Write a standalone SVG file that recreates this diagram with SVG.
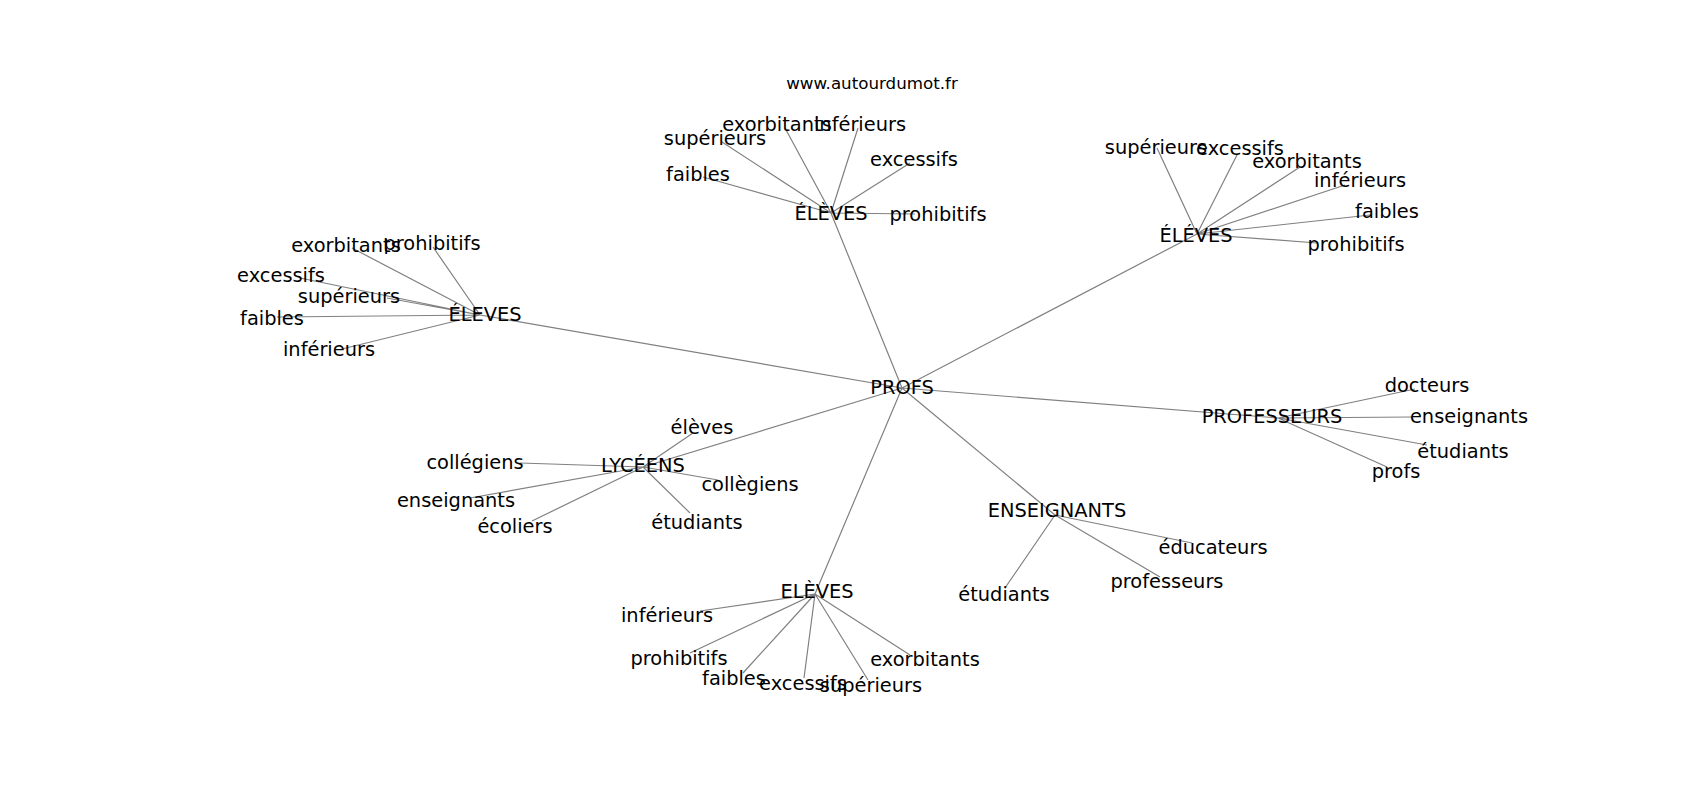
<svg xmlns="http://www.w3.org/2000/svg" width="1700" height="800" viewBox="0 0 1700 800">
<style>
.e{stroke:#808080;stroke-width:1.2;fill:none}
text{font-family:"DejaVu Sans",sans-serif;font-size:19.4px;fill:#000;text-anchor:middle}
.t{font-size:16.7px}
</style>
<rect width="1700" height="800" fill="#fff"/>
<text class="t" x="872" y="89">www.autourdumot.fr</text>
<g id="edges">
<path class="e" d="M902,388L831,213 M902,388L1197,234 M902,388L480,315 M902,388L1278,418 M902,388L643,467 M902,388L1055,515 M902,388L815,594"/>
<path class="e" d="M831,213L785,128 M831,213L858,128 M831,213L722,142 M831,213L910,163 M831,213L703,177 M831,213L915,214"/>
<path class="e" d="M1197,234L1157,148 M1197,234L1237,155 M1197,234L1300,167 M1197,234L1345,185 M1197,234L1370,215 M1197,234L1317,243"/>
<path class="e" d="M480,315L352,248 M480,315L433,247 M480,315L300,278 M480,315L387,298 M480,315L277,317 M480,315L342,349"/>
<path class="e" d="M1278,418L1415,389 M1278,418L1413,417 M1278,418L1427,445 M1278,418L1387,467"/>
<path class="e" d="M643,467L693,433 M643,467L520,463 M643,467L718,480 M643,467L470,498 M643,467L532,521 M643,467L690,513"/>
<path class="e" d="M1055,515L1192,543 M1055,515L1160,577 M1055,515L1005,588"/>
<path class="e" d="M815,594L700,611 M815,594L690,653 M815,594L743,673 M815,594L804,678 M815,594L868,680 M815,594L910,655"/>
</g>
<g id="n-profs"><text x="902" y="394">PROFS</text></g>
<g id="n-eleves-top"><text x="831" y="220">ÉLÈVES</text></g>
<g id="n-eleves-top-exorbitants"><text x="777" y="131">exorbitants</text></g>
<g id="n-eleves-top-inferieurs"><text x="860" y="131">inférieurs</text></g>
<g id="n-eleves-top-superieurs"><text x="715" y="145">supérieurs</text></g>
<g id="n-eleves-top-excessifs"><text x="914" y="166">excessifs</text></g>
<g id="n-eleves-top-faibles"><text x="698" y="181">faibles</text></g>
<g id="n-eleves-top-prohibitifs"><text x="938" y="221">prohibitifs</text></g>
<g id="n-eleves-right"><text x="1196" y="242">ÉLÉVES</text></g>
<g id="n-eleves-right-superieurs"><text x="1156" y="154">supérieurs</text></g>
<g id="n-eleves-right-excessifs"><text x="1240" y="155">excessifs</text></g>
<g id="n-eleves-right-exorbitants"><text x="1307" y="168">exorbitants</text></g>
<g id="n-eleves-right-inferieurs"><text x="1360" y="187">inférieurs</text></g>
<g id="n-eleves-right-faibles"><text x="1387" y="218">faibles</text></g>
<g id="n-eleves-right-prohibitifs"><text x="1356" y="251">prohibitifs</text></g>
<g id="n-eleves-left"><text x="485" y="321">ÉLEVES</text></g>
<g id="n-eleves-left-exorbitants"><text x="346" y="252">exorbitants</text></g>
<g id="n-eleves-left-prohibitifs"><text x="432" y="250">prohibitifs</text></g>
<g id="n-eleves-left-excessifs"><text x="281" y="282">excessifs</text></g>
<g id="n-eleves-left-superieurs"><text x="349" y="303">supérieurs</text></g>
<g id="n-eleves-left-faibles"><text x="272" y="325">faibles</text></g>
<g id="n-eleves-left-inferieurs"><text x="329" y="356">inférieurs</text></g>
<g id="n-professeurs"><text x="1272" y="423">PROFESSEURS</text></g>
<g id="n-professeurs-docteurs"><text x="1427" y="392">docteurs</text></g>
<g id="n-professeurs-enseignants"><text x="1469" y="423">enseignants</text></g>
<g id="n-professeurs-etudiants"><text x="1463" y="458">étudiants</text></g>
<g id="n-professeurs-profs"><text x="1396" y="478">profs</text></g>
<g id="n-lyceens"><text x="643" y="472">LYCÉENS</text></g>
<g id="n-lyceens-eleves"><text x="702" y="434">élèves</text></g>
<g id="n-lyceens-collegiens"><text x="475" y="469">collégiens</text></g>
<g id="n-lyceens-collegiens2"><text x="750" y="491">collègiens</text></g>
<g id="n-lyceens-enseignants"><text x="456" y="507">enseignants</text></g>
<g id="n-lyceens-ecoliers"><text x="515" y="533">écoliers</text></g>
<g id="n-lyceens-etudiants"><text x="697" y="529">étudiants</text></g>
<g id="n-enseignants"><text x="1057" y="517">ENSEIGNANTS</text></g>
<g id="n-enseignants-educateurs"><text x="1213" y="554">éducateurs</text></g>
<g id="n-enseignants-professeurs"><text x="1167" y="588">professeurs</text></g>
<g id="n-enseignants-etudiants"><text x="1004" y="601">étudiants</text></g>
<g id="n-eleves-bottom"><text x="817" y="598">ELÈVES</text></g>
<g id="n-eleves-bottom-inferieurs"><text x="667" y="622">inférieurs</text></g>
<g id="n-eleves-bottom-prohibitifs"><text x="679" y="665">prohibitifs</text></g>
<g id="n-eleves-bottom-faibles"><text x="734" y="685">faibles</text></g>
<g id="n-eleves-bottom-excessifs"><text x="803" y="690">excessifs</text></g>
<g id="n-eleves-bottom-superieurs"><text x="871" y="692">supérieurs</text></g>
<g id="n-eleves-bottom-exorbitants"><text x="925" y="666">exorbitants</text></g>
</svg>
